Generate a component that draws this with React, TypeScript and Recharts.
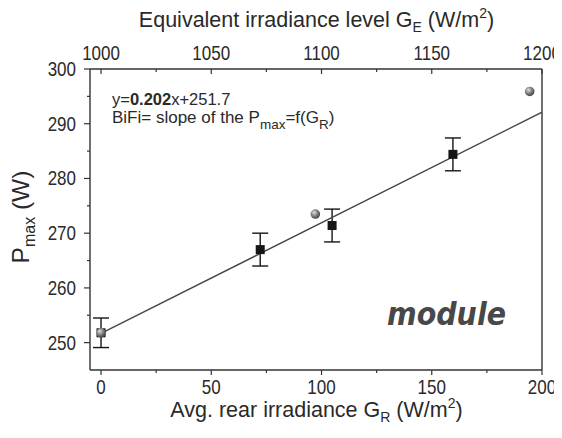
import React from "react";
import { ComposedChart, Scatter, XAxis, YAxis, ErrorBar, Label } from "recharts";

// ---- data ----
const squareX = [0, 72.2, 104.8, 159.6];
const squareY = [251.8, 267.0, 271.4, 284.4];
const squareErr = [2.7, 3.0, 3.0, 3.0];
const sphereX = [0, 97.2, 194.4];
const sphereY = [251.8, 273.5, 295.9];
const fitX = [0, 200];
const fitY = [251.7, 292.1];
const bottomTicks = [0, 25, 50, 75, 100, 125, 150, 175, 200];
const bottomLabels = [0, 50, 100, 150, 200];
const topTicks = [1000, 1025, 1050, 1075, 1100, 1125, 1150, 1175, 1200];
const topLabels = [1000, 1050, 1100, 1150, 1200];
const leftTicks = [250, 255, 260, 265, 270, 275, 280, 285, 290, 295, 300];
const leftLabels = [250, 260, 270, 280, 290, 300];

const squares = squareX.map((x, i) => ({ x, y: squareY[i], err: squareErr[i] }));
const spheres = sphereX.map((x, i) => ({ x, y: sphereY[i] }));
const fit = fitX.map((x, i) => ({ x, y: fitY[i] }));

const FONT = "'Liberation Sans', Arial, sans-serif";
const INK = "#2a2a2a";
const AX = "#333";
const SY = 1.2;

const BottomTick = (p: any) => {
  const v = p.payload.value;
  const major = bottomLabels.includes(v);
  return (
    <g>
      <line x1={p.x} x2={p.x} y1={p.y} y2={p.y + (major ? 5 : 3)} stroke={AX} strokeWidth={1.2} />
      {major && (
        <text
          transform={`translate(${p.x},${p.y + 24}) scale(1,${SY})`}
          textAnchor="middle"
          fontFamily={FONT}
          fontSize={17}
          fill={INK}
        >
          {v}
        </text>
      )}
    </g>
  );
};

const TopTick = (p: any) => {
  const v = p.payload.value;
  const major = topLabels.includes(v);
  return (
    <g>
      <line x1={p.x} x2={p.x} y1={p.y} y2={p.y + (major ? 5 : 3)} stroke={AX} strokeWidth={1.2} />
      {major && (
        <text
          transform={`translate(${p.x},${p.y - 9}) scale(1,${SY})`}
          textAnchor="middle"
          fontFamily={FONT}
          fontSize={17}
          fill={INK}
        >
          {v}
        </text>
      )}
    </g>
  );
};

const LeftTick = (p: any) => {
  const v = p.payload.value;
  const major = leftLabels.includes(v);
  return (
    <g>
      <line x1={p.x} x2={p.x - (major ? 6 : 3)} y1={p.y} y2={p.y} stroke={AX} strokeWidth={1.2} />
      {major && (
        <text
          transform={`translate(${p.x - 14},${p.y + 7}) scale(1,${SY})`}
          textAnchor="end"
          fontFamily={FONT}
          fontSize={17}
          fill={INK}
        >
          {v}
        </text>
      )}
    </g>
  );
};

const Square = (p: any) => (
  <rect x={p.cx - 4.5} y={p.cy - 4.5} width={9} height={9} fill="#151515" />
);

const Sphere = (p: any) => (
  <g>
    <defs>
      <radialGradient id={`sph${p.index}`} cx="0.38" cy="0.35" r="0.7">
        <stop offset="0" stopColor="#e0e0e0" />
        <stop offset="0.45" stopColor="#8a8a8a" />
        <stop offset="1" stopColor="#3a3a3a" />
      </radialGradient>
    </defs>
    <circle cx={p.cx} cy={p.cy} r={4.8} fill={`url(#sph${p.index})`} />
  </g>
);

const NoShape = () => <g />;

const BottomTitle = () => (
  <text x={308.5} y={408.5} textAnchor="middle" fontFamily={FONT} fontSize={21.5} fill={INK}>
    Avg. rear irradiance G
    <tspan fontSize={14} dy={5}>R</tspan>
    <tspan dy={-5}> (W/m</tspan>
    <tspan fontSize={14} dy={-9}>2</tspan>
    <tspan dy={9}>)</tspan>
  </text>
);

const TopTitle = () => (
  <g>
    <text x={308.5} y={19} textAnchor="middle" fontFamily={FONT} fontSize={21.5} fill={INK}>
      Equivalent irradiance level G
      <tspan fontSize={14} dy={5}>E</tspan>
      <tspan dy={-5}> (W/m</tspan>
      <tspan fontSize={14} dy={-9}>2</tspan>
      <tspan dy={9}>)</tspan>
    </text>
    <text x={104} y={96.5} fontFamily={FONT} fontSize={16.5} fill={INK}>
      y=<tspan fontWeight="bold">0.202</tspan>x+251.7
    </text>
    <text x={104} y={114.5} fontFamily={FONT} fontSize={17} fill={INK}>
      BiFi= slope of the P
      <tspan fontSize={13.5} dy={6}>max</tspan>
      <tspan dy={-6}>=f(G</tspan>
      <tspan fontSize={13.5} dy={6}>R</tspan>
      <tspan dy={-6}>)</tspan>
    </text>
    <text
      transform={`translate(498,317) scale(1,1.15)`}
      textAnchor="end"
      fontFamily="'DejaVu Sans', sans-serif"
      fontWeight="bold"
      fontStyle="italic"
      fontSize={28.5}
      fill="#484848"
    >
      module
    </text>
  </g>
);

const LeftTitle = () => (
  <text
    transform="translate(21,209) rotate(-90)"
    textAnchor="middle"
    fontFamily={FONT}
    fontSize={24.5}
    fill={INK}
  >
    P<tspan fontSize={16} dy={6}>max</tspan>
    <tspan dy={-6}> (W)</tspan>
  </text>
);

export default function App() {
  return (
    <div style={{ width: 554, height: 422, overflow: "visible" }}>
      <style>{"svg.recharts-surface{overflow:visible}"}</style>
      <ComposedChart width={554} height={422} margin={{ top: 0, right: 19, bottom: 0, left: 0 }}>
        <XAxis
          xAxisId="b"
          type="number"
          dataKey="x"
          orientation="bottom"
          domain={[-5, 200]}
          ticks={bottomTicks}
          interval={0}
          allowDataOverflow
          height={60}
          tickSize={0}
          tickMargin={0}
          tickLine={false}
          axisLine={{ stroke: AX, strokeWidth: 1.4 }}
          tick={<BottomTick />}
        >
          <Label content={<BottomTitle />} />
        </XAxis>
        <XAxis
          xAxisId="t"
          type="number"
          dataKey="x"
          orientation="top"
          domain={[995, 1200]}
          ticks={topTicks}
          interval={0}
          allowDataOverflow
          height={61}
          tickSize={0}
          tickMargin={0}
          tickLine={false}
          axisLine={{ stroke: AX, strokeWidth: 1.4 }}
          tick={<TopTick />}
        >
          <Label content={<TopTitle />} />
        </XAxis>
        <YAxis
          yAxisId="l"
          type="number"
          dataKey="y"
          domain={[245, 300]}
          ticks={leftTicks}
          interval={0}
          allowDataOverflow
          width={82}
          tickSize={0}
          tickMargin={0}
          tickLine={false}
          axisLine={{ stroke: AX, strokeWidth: 1.4 }}
          tick={<LeftTick />}
        >
          <Label content={<LeftTitle />} />
        </YAxis>
        <YAxis
          yAxisId="r"
          orientation="right"
          type="number"
          domain={[245, 300]}
          allowDataOverflow
          width={1}
          tick={false}
          tickLine={false}
          axisLine={{ stroke: AX, strokeWidth: 1.4 }}
        />
        <Scatter
          xAxisId="b"
          yAxisId="l"
          data={fit}
          line={{ stroke: "#474747", strokeWidth: 1.4 }}
          shape={<NoShape />}
          isAnimationActive={false}
        />
        <Scatter
          xAxisId="b"
          yAxisId="l"
          data={squares}
          shape={<Square />}
          isAnimationActive={false}
        >
          <ErrorBar dataKey="err" direction="y" width={8} stroke="#151515" strokeWidth={1.4} />
        </Scatter>
        <Scatter
          xAxisId="b"
          yAxisId="l"
          data={spheres}
          shape={<Sphere />}
          isAnimationActive={false}
        />
      </ComposedChart>
    </div>
  );
}
